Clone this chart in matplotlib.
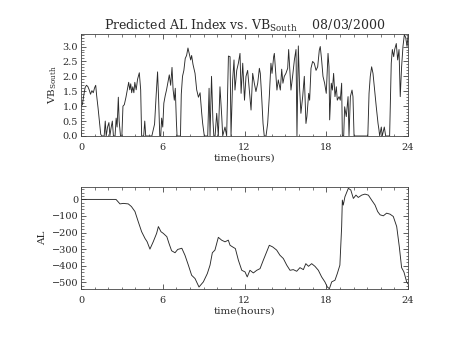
import matplotlib
matplotlib.use("Agg")
import matplotlib.pyplot as plt
from matplotlib.ticker import MultipleLocator, FormatStrFormatter

# Solar wind driver: VB_South (hours, value)
vb_hours = [
    0.00, 0.10, 0.20, 0.30, 0.40, 0.50, 0.60, 0.70, 0.80, 0.90, 1.00, 1.08, 1.15, 1.25, 1.35, 1.45,
    1.55, 1.70, 1.78, 1.85, 1.95, 2.05, 2.12, 2.20, 2.30, 2.38, 2.50, 2.58, 2.65, 2.74, 2.80, 2.90,
    3.00, 3.08, 3.18, 3.30, 3.40, 3.50, 3.58, 3.65, 3.72, 3.80, 3.88, 3.95, 4.05, 4.15, 4.28, 4.38,
    4.45, 4.60, 4.68, 4.75, 5.20, 5.40, 5.52, 5.62, 5.70, 5.78, 5.85, 5.92, 6.00, 6.08, 6.18, 6.28,
    6.38, 6.48, 6.58, 6.68, 6.76, 6.85, 6.92, 7.00, 7.05, 7.30, 7.36, 7.45, 7.55, 7.65, 7.75, 7.85,
    7.95, 8.05, 8.12, 8.22, 8.37, 8.49, 8.62, 8.74, 8.86, 8.93, 9.05, 9.30, 9.40, 9.47, 9.58, 9.68,
    9.75, 9.84, 9.96, 10.08, 10.20, 10.33, 10.40, 10.57, 10.69, 10.82, 10.94, 11.01, 11.13, 11.23,
    11.30, 11.43, 11.55, 11.67, 11.75, 11.87, 12.00, 12.11, 12.23, 12.35, 12.48, 12.60, 12.72, 12.84,
    12.97, 13.09, 13.16, 13.26, 13.36, 13.45, 13.58, 13.70, 13.82, 13.94, 14.02, 14.14, 14.19, 14.31,
    14.38, 14.48, 14.63, 14.73, 14.82, 14.92, 15.04, 15.17, 15.24, 15.31, 15.41, 15.53, 15.66, 15.78,
    15.85, 15.95, 16.05, 16.14, 16.27, 16.39, 16.51, 16.58, 16.71, 16.78, 16.88, 17.00, 17.12, 17.25,
    17.37, 17.49, 17.56, 17.66, 17.76, 17.88, 18.00, 18.13, 18.20, 18.25, 18.37, 18.45, 18.54, 18.64,
    18.74, 18.81, 18.94, 19.03, 19.13, 19.18, 19.28, 19.35, 19.47, 19.60, 19.67, 19.77, 19.89, 19.96,
    20.04, 21.05, 21.14, 21.23, 21.33, 21.43, 21.55, 21.67, 21.80, 21.87, 21.92, 22.04, 22.11, 22.26,
    22.36, 22.65, 22.77, 22.85, 22.95, 23.02, 23.14, 23.24, 23.34, 23.43, 23.53, 23.63, 23.73, 23.83,
    23.93, 24.00,
]
vb_values = [
    1.00, 1.05, 1.35, 1.62, 1.70, 1.66, 1.55, 1.40, 1.52, 1.45, 1.62, 1.70, 1.35, 0.95, 0.50, 0.05,
    0.00, 0.00, 0.50, 0.00, 0.30, 0.45, 0.00, 0.25, 0.50, 0.00, 0.00, 0.60, 0.30, 1.30, 0.50, 0.00,
    0.00, 1.00, 1.05, 1.30, 1.55, 1.80, 1.55, 1.75, 1.45, 1.65, 1.45, 1.80, 1.55, 1.90, 2.12, 1.55,
    0.00, 0.00, 0.50, 0.00, 0.00, 0.40, 1.40, 2.15, 1.20, 0.00, 0.00, 0.60, 0.30, 1.10, 1.35, 1.55,
    1.80, 2.05, 1.70, 2.30, 1.55, 1.20, 1.60, 0.50, 0.00, 0.00, 1.40, 2.00, 2.20, 2.60, 2.70, 2.95,
    2.75, 2.55, 2.70, 2.40, 2.10, 1.55, 1.30, 1.45, 0.76, 0.42, 0.00, 0.00, 1.60, 0.00, 2.00, 0.54,
    0.00, 0.00, 0.76, 0.00, 1.65, 0.65, 0.00, 0.30, 0.00, 2.68, 2.66, 0.00, 1.88, 2.55,
    1.54, 2.20, 2.44, 2.77, 1.43, 2.44, 1.20, 2.00, 2.20, 1.54, 0.87, 2.10, 1.77, 1.49,
    1.77, 2.27, 2.10, 1.32, 0.42, 0.00, 0.00, 0.42, 1.32, 2.44, 2.10, 2.66, 2.77, 2.00,
    1.54, 1.88, 1.54, 2.24, 1.77, 2.00, 2.10, 2.27, 2.90, 2.33, 1.54, 2.00, 2.55, 2.90,
    0.00, 3.02, 1.54, 0.76, 1.32, 2.00, 0.42, 0.65, 1.43, 1.20, 2.27, 2.50, 2.44, 2.20,
    2.32, 2.88, 3.00, 2.55, 2.00, 1.77, 1.43, 2.77, 2.32, 0.54, 1.77, 1.54, 2.10, 1.32,
    1.65, 1.20, 1.32, 1.20, 1.77, 0.00, 0.00, 0.98, 0.65, 1.32, 0.00, 1.32, 1.54, 1.32,
    0.00, 0.00, 1.43, 2.00, 2.32, 2.10, 1.54, 0.98, 0.42, 0.20, 0.00, 0.30, 0.00, 0.30,
    0.00, 0.00, 2.44, 2.90, 2.66, 2.90, 3.10, 2.55, 2.90, 1.32, 2.32, 3.00, 3.40, 3.30,
    3.00, 3.35,
]

# Predicted AL index (hours, nT)
al_hours = [
    0.00, 2.57, 2.86, 3.10, 3.47, 3.70, 3.96, 4.20, 4.45, 4.70, 4.85, 5.06, 5.30, 5.55, 5.68, 5.87,
    6.04, 6.30, 6.46, 6.65, 6.90, 7.10, 7.40, 7.63, 7.88, 8.12, 8.37, 8.66, 8.98, 9.27, 9.47, 9.64,
    9.83, 10.08, 10.32, 10.57, 10.81, 10.94, 11.13, 11.33, 11.55, 11.80, 12.04, 12.20, 12.40, 12.65,
    12.90, 13.14, 13.38, 13.63, 13.82, 14.07, 14.36, 14.60, 14.85, 15.10, 15.34, 15.58, 15.83, 16.07,
    16.32, 16.50, 16.70, 16.93, 17.17, 17.42, 17.66, 17.90, 18.08, 18.23, 18.40, 18.64, 18.81, 19.00,
    19.13, 19.18, 19.25, 19.37, 19.62, 19.80, 19.99, 20.18, 20.35, 20.60, 20.84, 21.09, 21.33, 21.58,
    21.77, 21.95, 22.19, 22.43, 22.68, 22.92, 23.17, 23.36, 23.53, 23.70, 23.90, 24.00,
]
al_values = [
    0, 0, -27, -24, -27, -43, -73, -134, -195, -236, -255, -300, -256, -205, -164, -195,
    -205, -225, -266, -310, -322, -302, -295, -337, -397, -458, -478, -529, -498, -448, -397, -322,
    -306, -229, -246, -256, -246, -277, -287, -297, -367, -428, -438, -468, -428, -444,
    -428, -418, -367, -316, -277, -287, -306, -337, -357, -397, -428, -424, -434, -412,
    -424, -388, -404, -388, -404, -428, -468, -498, -529, -539, -498, -488, -448, -397,
    -164, -4, -34, 16, 67, 57, 6, 26, 12, 26, 32, 26, -4, -34,
    -73, -93, -99, -83, -89, -103, -164, -285, -412, -438, -498, -510,
]

hour_ticks = [0, 6, 12, 18, 24]

plt.rcParams['font.family'] = ['DejaVu Serif']
plt.rcParams['mathtext.fontset'] = 'dejavuserif'

ink = '#2a2a2a'

fig = plt.figure(figsize=(4.54, 3.41), dpi=100)
ax1 = fig.add_axes([0.1784, 0.6012, 0.7203, 0.2991])
ax2 = fig.add_axes([0.1784, 0.1525, 0.7203, 0.2991])

line_kw = dict(color=ink, linewidth=0.65)
ax1.plot(vb_hours, vb_values, **line_kw)
ax2.plot(al_hours, al_values, **line_kw)

ax1.set_xlim(0, 24)
ax1.set_ylim(0, 3.42)
ax2.set_xlim(0, 24)
ax2.set_ylim(-541, 75)

for ax in (ax1, ax2):
    ax.set_xticks(hour_ticks)
    ax.xaxis.set_minor_locator(MultipleLocator(1))
    ax.tick_params(which='both', direction='in', top=True, right=True,
                   labelsize=7, color='#444444', labelcolor=ink)
    ax.tick_params(axis='x', which='both', pad=5)
    ax.tick_params(axis='y', which='both', pad=2)
    ax.tick_params(which='major', length=3.5, width=0.6)
    ax.tick_params(which='minor', length=1.8, width=0.5)
    for s in ax.spines.values():
        s.set_linewidth(0.6)
        s.set_color('#444444')
    ax.set_xlabel('time(hours)', fontsize=7.5, labelpad=1.5, color=ink)

ax1.yaxis.set_major_locator(MultipleLocator(0.5))
ax1.yaxis.set_minor_locator(MultipleLocator(0.1))
ax1.yaxis.set_major_formatter(FormatStrFormatter('%.1f'))
ax2.yaxis.set_major_locator(MultipleLocator(100))
ax2.yaxis.set_minor_locator(MultipleLocator(20))

ax1.set_ylabel(r'VB$_{\rm South}$', fontsize=7.5, labelpad=3, color=ink)
ax2.set_ylabel('AL', fontsize=7.5, labelpad=3, color=ink)

ax1.set_title(r'Predicted AL Index vs. VB$_{\rm South}$    08/03/2000',
              fontsize=9, pad=3, color=ink)

fig.savefig('out.png', dpi=100)
